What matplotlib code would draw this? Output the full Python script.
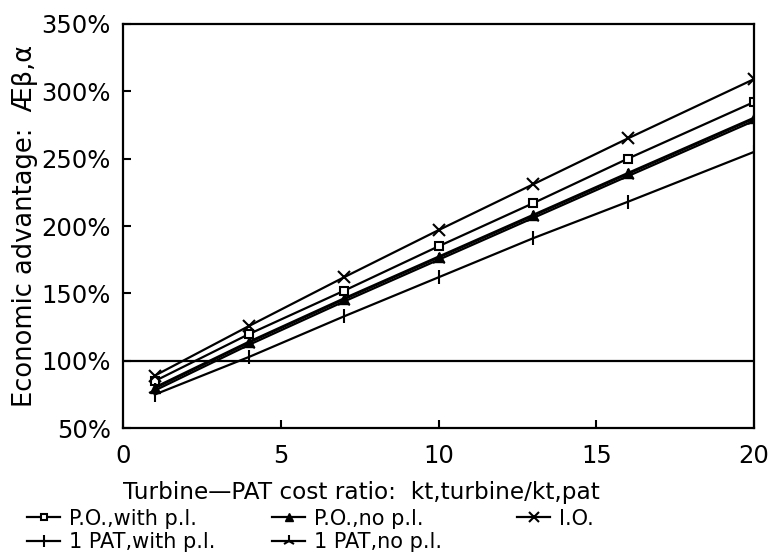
import matplotlib
matplotlib.use("Agg")
import matplotlib.pyplot as plt
from matplotlib.lines import Line2D

# kt,turbine / kt,pat
ratio = [1, 4, 7, 10, 13, 16, 20]

# economic advantage, percent
po_with_pl = [85, 120, 152, 185, 217, 250, 292]
po_no_pl = [80, 114, 146, 177, 208, 239, 280]
io = [89, 126, 162, 197, 231, 265, 309]
pat_with_pl = [75, 103, 133, 162, 191, 218, 255]
pat_no_pl = [78, 112, 144, 175, 206, 237, 278]

xticks = [0, 5, 10, 15, 20]
yticks = [50, 100, 150, 200, 250, 300, 350]

plt.rcParams["font.family"] = ["DejaVu Sans"]

fig = plt.figure(figsize=(7.75, 5.54), dpi=100)
ax = fig.add_axes([0.159, 0.227, 0.814, 0.730])

lw = 1.6
ax.axhline(100, color="black", lw=lw)
ax.plot(ratio, po_with_pl, color="black", lw=lw, marker="s", ms=6, mfc="white", mew=1.5)
ax.plot(ratio, po_no_pl, color="black", lw=lw + 0.6, marker="^", ms=7)
ax.plot(ratio, io, color="black", lw=lw, marker="x", ms=8, mew=1.5)
ax.plot(ratio, pat_with_pl, color="black", lw=lw, marker="|", ms=10, mew=1.5)
ax.plot(ratio, pat_no_pl, color="black", lw=lw, marker="2", ms=10, mew=1.5)

ax.set_xlim(0, 20)
ax.set_ylim(50, 350)
ax.set_xticks(xticks)
ax.set_yticks(yticks)
ax.set_yticklabels(["%d%%" % v for v in yticks])
ax.tick_params(direction="in", length=6, width=1.5, labelsize=17.5)
ax.tick_params(axis="y", pad=9)
ax.tick_params(axis="x", pad=11)
for s in ax.spines.values():
    s.set_linewidth(1.6)

ax.set_xlabel("Turbine\u2014PAT cost ratio:  kt,turbine/kt,pat", fontsize=16.7, labelpad=10, loc="left")
ax.set_ylabel("Economic advantage:  \u00c6\u03b2,\u03b1", fontsize=18.5, labelpad=2)


def handle(marker, **kw):
    return Line2D([], [], color="black", lw=lw, marker=marker, **kw)


cols = [
    ([handle("s", ms=5, mfc="white", mew=1.5), handle("|", ms=9, mew=1.5)],
     ["P.O.,with p.l.", "1 PAT,with p.l."], 0.035),
    ([handle("^", ms=6), handle("2", ms=9, mew=1.5)],
     ["P.O.,no p.l.", "1 PAT,no p.l."], 0.351),
    ([handle("x", ms=7, mew=1.5)], ["I.O."], 0.667),
]
for hs, labels, x0 in cols:
    fig.legend(hs, labels, loc="upper left", bbox_to_anchor=(x0, 0.082),
               frameon=False, fontsize=15, handlelength=1.6, handletextpad=0.4,
               labelspacing=0.18, borderaxespad=0, borderpad=0)

fig.savefig("out.png", dpi=100)
